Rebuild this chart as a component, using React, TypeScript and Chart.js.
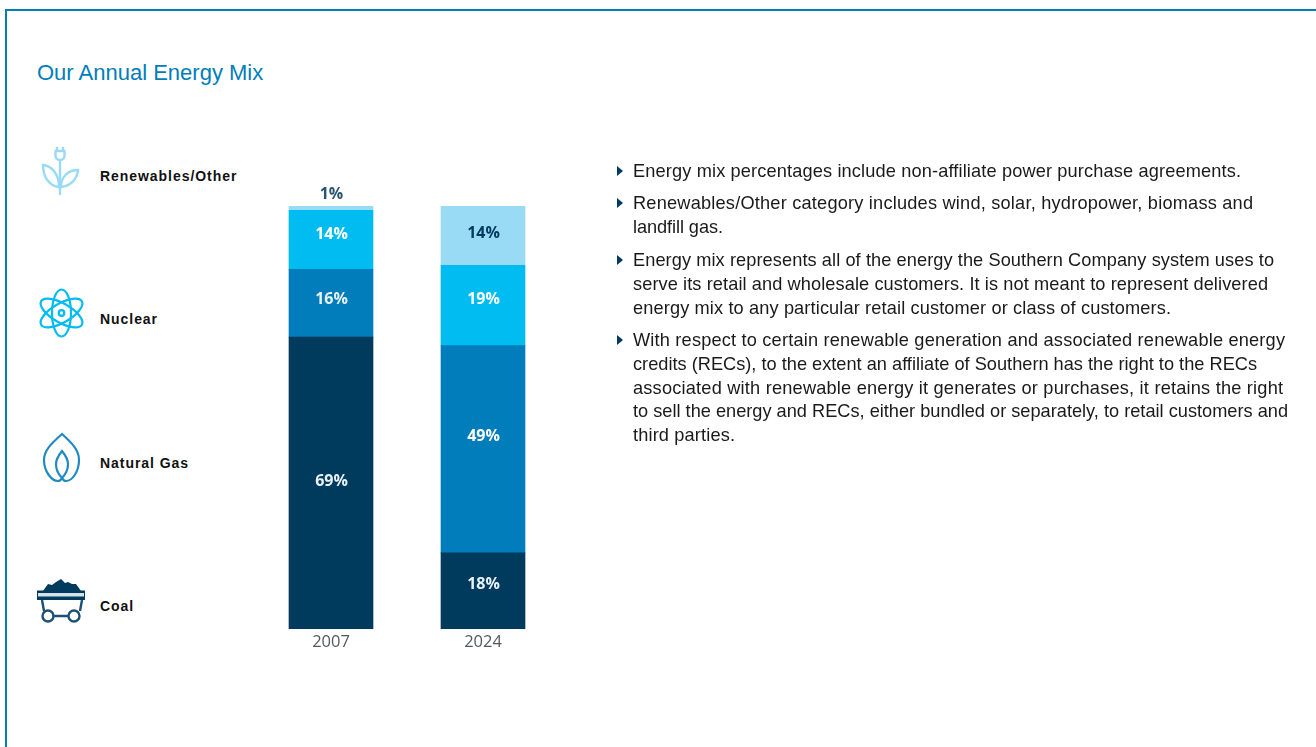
import React, { useEffect, useRef } from "react";
import { Chart, registerables } from "chart.js";

Chart.register(...registerables);

const years = ["2007", "2024"];
const coal = [69, 18];
const naturalGas = [16, 49];
const nuclear = [14, 19];
const renewables = [1, 14];

const title = "Our Annual Energy Mix";
const legendNames = ["Renewables/Other", "Nuclear", "Natural Gas", "Coal"];
const notes = [
  ["Energy mix percentages include non-affiliate power purchase agreements."],
  ["Renewables/Other category includes wind, solar, hydropower, biomass and", "landfill gas."],
  [
    "Energy mix represents all of the energy the Southern Company system uses to",
    "serve its retail and wholesale customers. It is not meant to represent delivered",
    "energy mix to any particular retail customer or class of customers.",
  ],
  [
    "With respect to certain renewable generation and associated renewable energy",
    "credits (RECs), to the extent an affiliate of Southern has the right to the RECs",
    "associated with renewable energy it generates or purchases, it retains the right",
    "to sell the energy and RECs, either bundled or separately, to retail customers and",
    "third parties.",
  ],
];
// Rendered width of each note line, so the lines end where the reference's do.
const noteWidths = [[608], [620, 90], [641, 635, 538], [652, 624, 650, 655, 102]];

const NAVY = "#003A5D";
const BLUE = "#007DBA";
const CYAN = "#00BCF1";
const PALE = "#99DAF5";
const NOTE_FONT = "18.2px 'Liberation Sans'";

const labelStyle: Record<string, { color: string[]; shift: number[] }> = {
  Coal: { color: ["#E8F1F6", "#E8F1F6"], shift: [-2, -6] },
  "Natural Gas": { color: ["#E8F1F6", "#FFFFFF"], shift: [-4, -13] },
  Nuclear: { color: ["#FFFFFF", "#FFFFFF"], shift: [-5, -6] },
  "Renewables/Other": { color: ["#2A5470", NAVY], shift: [-14, -2] },
};

const labelPlugin = {
  id: "segmentLabels",
  afterDatasetsDraw(chart: any) {
    const { ctx } = chart;
    ctx.save();
    ctx.font = "700 16px 'Open Sans'";
    ctx.textAlign = "center";
    ctx.textBaseline = "middle";
    chart.data.datasets.forEach((ds: any, i: number) => {
      const style = labelStyle[ds.label];
      chart.getDatasetMeta(i).data.forEach((bar: any, j: number) => {
        const mid = (bar.y + bar.base) / 2;
        ctx.fillStyle = style.color[j];
        ctx.fillText(`${ds.data[j]}%`, bar.x + 0.5, mid + style.shift[j]);
      });
    });
    ctx.restore();
  },
};

function spacingFor(text: string, width: number) {
  const ctx = document.createElement("canvas").getContext("2d")!;
  ctx.font = NOTE_FONT;
  return (width - ctx.measureText(text).width) / (text.length - 1);
}

function Icons() {
  return (
    <svg
      width={100}
      height={500}
      viewBox="0 140 100 500"
      style={{ position: "absolute", left: 0, top: 140, filter: "blur(0.4px)" }}
      fill="none"
    >
      <g stroke={PALE} strokeWidth={2.4}>
        <path d="M60 160V195" />
        <path d="M57 147V151M63 147V151" />
        <path d="M55.5 151H64.5V156C64.5 158.5 62.5 160 60 160C57.5 160 55.5 158.5 55.5 156Z" />
        <path d="M59 187C50 186 43 178 43 165C52 166 59 174 59 187Z" />
        <path d="M61 187C70 186 77 180 78 170C68 170 61 177 61 187Z" />
      </g>
      <g stroke={CYAN} strokeWidth={2.2}>
        <ellipse cx={61.5} cy={313} rx={23.5} ry={9.5} transform="rotate(90 61.5 313)" />
        <ellipse cx={61.5} cy={313} rx={23.5} ry={9.5} transform="rotate(30 61.5 313)" />
        <ellipse cx={61.5} cy={313} rx={23.5} ry={9.5} transform="rotate(-30 61.5 313)" />
        <circle cx={61.5} cy={313} r={2.8} />
      </g>
      <g stroke="#1F8AC4" strokeWidth={2.2}>
        <path d="M62 434C72 443 79 450 79 460C79 472 72 481 66 481C64 481 63 480 62 478C61 480 60 481 58 481C52 481 44 472 44 460C44 450 52 443 62 434Z" />
        <path d="M62 451C66 456 68 460 68 464C68 470 65 475 62 478C59 475 56 470 56 464C56 460 58 456 62 451Z" />
      </g>
      <g>
        <path d="M43 591L48 584L52 585L56 582L61 579L65 583L68 582L72 584L76 584L81 591Z" fill={NAVY} />
        <path d="M37 590.5H85V600H37Z" fill={NAVY} />
        <path d="M38 593H84V596.5H38Z" fill="#D5E2EA" />
        <g stroke="#1D5075" strokeWidth={2.4}>
          <path d="M42 600L44 611M82 600L80 611M54 616H68" />
          <circle cx={48} cy={616} r={5.5} />
          <circle cx={74} cy={616} r={5.5} />
        </g>
      </g>
    </svg>
  );
}

export default function App() {
  const ref = useRef<HTMLCanvasElement>(null);

  useEffect(() => {
    document.body.style.margin = "0";
    const chart = new Chart(ref.current!, {
      type: "bar",
      data: {
        labels: years,
        datasets: [
          { label: "Coal", data: coal, backgroundColor: NAVY },
          { label: "Natural Gas", data: naturalGas, backgroundColor: BLUE },
          { label: "Nuclear", data: nuclear, backgroundColor: CYAN },
          { label: "Renewables/Other", data: renewables, backgroundColor: PALE },
        ],
      },
      options: {
        responsive: false,
        animation: false,
        layout: { padding: { left: 255, right: 757, top: 206, bottom: 88 } },
        plugins: { legend: { display: false }, tooltip: { enabled: false } },
        datasets: { bar: { barThickness: 84 } },
        scales: {
          x: {
            stacked: true,
            grid: { display: false },
            border: { display: false },
            afterFit: (s: any) => {
              s.height = 30;
            },
            ticks: {
              color: "#55595C",
              font: { family: "'Open Sans'", size: 16.5 },
              padding: -5,
              maxRotation: 0,
            },
          },
          y: { stacked: true, display: false, min: 0, max: 100 },
        },
      },
      plugins: [labelPlugin],
    } as any);
    return () => chart.destroy();
  }, []);

  const abs: React.CSSProperties = { position: "absolute", margin: 0, whiteSpace: "nowrap" };
  const legendY = [176, 319, 463, 606];
  const noteTops = [160, 192, 249, 329];

  return (
    <div
      style={{
        position: "relative",
        width: 1316,
        height: 747,
        overflow: "hidden",
        background: "#fff",
        fontFamily: "'Liberation Sans', Arial, sans-serif",
      }}
    >
      <div
        style={{
          position: "absolute",
          left: 5,
          top: 9,
          width: 1400,
          height: 900,
          borderLeft: `2px solid ${BLUE}`,
          borderTop: `2px solid ${BLUE}`,
        }}
      />
      <h1 style={{ ...abs, left: 37, top: 60, fontSize: 22, lineHeight: "26px", fontWeight: 400, color: BLUE }}>
        {title}
      </h1>
      <Icons />
      {legendNames.map((n, i) => (
        <div
          key={n}
          style={{
            ...abs,
            left: 100,
            top: legendY[i] - 10,
            lineHeight: "20px",
            fontSize: 14,
            fontWeight: 700,
            letterSpacing: 0.95,
            color: "#111",
          }}
        >
          {n}
        </div>
      ))}
      <canvas
        ref={ref}
        width={1316}
        height={747}
        style={{ position: "absolute", left: 0, top: 0, filter: "blur(0.4px)" }}
      />
      {notes.map((lines, i) => (
        <div key={i}>
          <svg width={6} height={10} style={{ position: "absolute", left: 617, top: noteTops[i] + 6 }}>
            <path d="M0 0L6 5L0 10Z" fill={NAVY} />
          </svg>
          <div style={{ position: "absolute", left: 633, top: noteTops[i], font: NOTE_FONT, lineHeight: "23.8px", color: "#1a1a1a", whiteSpace: "nowrap" }}>
            {lines.map((l, k) => (
              <div key={l} style={{ letterSpacing: spacingFor(l, noteWidths[i][k]) }}>
                {l}
              </div>
            ))}
          </div>
        </div>
      ))}
    </div>
  );
}
